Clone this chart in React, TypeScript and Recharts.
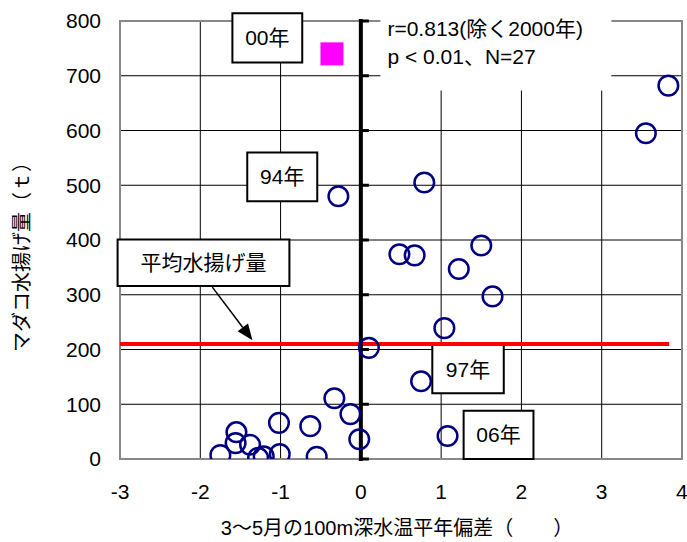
import React from 'react';
import {
  CartesianGrid,
  ReferenceArea,
  ReferenceDot,
  ReferenceLine,
  Scatter,
  ScatterChart,
  XAxis,
  YAxis,
} from 'recharts';

// 3-5月の100m深水温平年偏差 (x) とマダコ水揚げ量 (y)
const tempAnomaly = [
  3.83, 3.55, -0.28, 0.79, 0.48, 0.67, 1.5, 1.22, 1.64, 1.04, 0.1, 0.75, -0.13,
  -0.02, 1.08, -0.33, -0.63, -1.02, -0.55, -1.01, -1.55, -1.56, -1.38, -1.75,
  -1.28, -1.21,
];
const catchTons = [
  682, 595, 480, 505, 374, 372, 390, 347, 297, 239, 203, 142, 82, 36, 42, 111,
  60, 66, 4, 9, 49, 29, 26, 7, 2, 5,
];
const year2000Temp = [-0.36];
const year2000Tons = [740];
const meanCatch = 210;
const meanLineEnd = 3.84;

const xTicks = [-3, -2, -1, 0, 1, 2, 3, 4];
const yTicks = [0, 100, 200, 300, 400, 500, 600, 700, 800];

const points = tempAnomaly.map((x, i) => ({ x, y: catchTons[i] }));
const point2000 = year2000Temp.map((x, i) => ({ x, y: year2000Tons[i] }));

// annotation boxes, in data units
const yearBoxes = [
  { text: '00年', x1: -1.6, x2: -0.73, y1: 724, y2: 814 },
  { text: '94年', x1: -1.415, x2: -0.543, y1: 471, y2: 560 },
  { text: '97年', x1: 0.89, x2: 1.78, y1: 120, y2: 208 },
  { text: '06年', x1: 1.28, x2: 2.15, y1: 0, y2: 88 },
  { text: '平均水揚げ量', x1: -3.03, x2: -0.89, y1: 316, y2: 401 },
];

const FONT = '"Liberation Sans", Arial, "Noto Sans CJK JP", sans-serif';
const NAVY = '#000080';

const Ring = (p: any) => (
  <circle cx={p.cx} cy={p.cy} r={9.8} fill="none" stroke={NAVY} strokeWidth={2.5} />
);

const Square = (p: any) => (
  <rect x={p.cx - 11.5} y={p.cy - 11.5} width={23} height={23} fill="#ff00ff" />
);

const AxisTick = (p: any) => (
  <line x1={p.cx} y1={p.cy} x2={p.cx + 8} y2={p.cy} stroke="#000" strokeWidth={3} />
);

const Arrow = (p: any) => {
  const { x1, y1, x2, y2 } = p;
  const a = Math.atan2(y2 - y1, x2 - x1);
  const len = 16;
  const w = 6.5;
  const bx = x2 - len * Math.cos(a);
  const by = y2 - len * Math.sin(a);
  const nx = -Math.sin(a) * w;
  const ny = Math.cos(a) * w;
  return (
    <g>
      <line x1={x1} y1={y1} x2={bx} y2={by} stroke="#000" strokeWidth={1.5} />
      <polygon points={`${x2},${y2} ${bx + nx},${by + ny} ${bx - nx},${by - ny}`} fill="#000" />
    </g>
  );
};

const statLabel = (p: any) => {
  const vb = p.viewBox;
  return (
    <g fontSize={21} fill="#000">
      <text x={vb.x + 7} y={vb.y + 28}>r=0.813(除く2000年)</text>
      <text x={vb.x + 7} y={vb.y + 56}>p &lt; 0.01、N=27</text>
    </g>
  );
};

const yLabel = (p: any) => {
  const vb = p.viewBox;
  const cx = 22;
  const cy = vb.y + vb.height / 2 + 12;
  return (
    <text
      x={cx}
      y={cy}
      transform={`rotate(-90 ${cx} ${cy})`}
      textAnchor="middle"
      dominantBaseline="central"
      fontSize={20}
      fill="#000"
    >
      マダコ水揚げ量（ｔ）
    </text>
  );
};

const xLabel = (p: any) => {
  const vb = p.viewBox;
  return (
    <text
      x={vb.x + vb.width / 2 - 4}
      y={528}
      textAnchor="middle"
      dominantBaseline="central"
      fontSize={20}
      fill="#000"
    >
      3～5月の100m深水温平年偏差（　　）
    </text>
  );
};

export default function App() {
  return (
    <div style={{ position: 'absolute', left: 0, top: 0, background: '#fff', fontFamily: FONT }}>
      <ScatterChart width={687} height={542} margin={{ top: 21, right: 5, bottom: 0, left: 0 }}>
        <CartesianGrid
          stroke="#000"
          strokeWidth={1}
          horizontalValues={[100, 200, 300, 400, 500, 600, 700]}
          verticalValues={[-2, -1, 1, 2, 3]}
        />
        <XAxis
          type="number"
          dataKey="x"
          domain={[-3, 4]}
          ticks={xTicks}
          allowDataOverflow
          axisLine={false}
          tickLine={false}
          tickSize={0}
          tickMargin={25}
          height={83}
          tick={{ fontSize: 21, fill: '#000' }}
          label={xLabel}
        />
        <YAxis
          type="number"
          dataKey="y"
          domain={[0, 800]}
          ticks={yTicks}
          allowDataOverflow
          axisLine={false}
          tickLine={false}
          tickSize={0}
          tickMargin={19}
          width={120}
          tick={{ fontSize: 21, fill: '#000' }}
          label={yLabel}
        />
        <ReferenceArea x1={-3} x2={4} y1={0} y2={800} fill="none" stroke="#888" strokeWidth={2} />
        <ReferenceArea
          x1={0.244}
          x2={3.12}
          y1={673}
          y2={823}
          ifOverflow="visible"
          fill="#fff"
          fillOpacity={1}
          stroke="none"
          label={statLabel}
        />
        <ReferenceLine
          segment={[
            { x: -3, y: meanCatch },
            { x: meanLineEnd, y: meanCatch },
          ]}
          stroke="#ff0000"
          strokeWidth={4}
        />
        <ReferenceLine x={0} stroke="#000" strokeWidth={4} strokeLinecap="square" />
        {yTicks.map((v) => (
          <ReferenceDot key={v} x={0} y={v} r={0} shape={AxisTick} ifOverflow="visible" />
        ))}
        {yearBoxes.map((b) => (
          <ReferenceArea
            key={b.text}
            x1={b.x1}
            x2={b.x2}
            y1={b.y1}
            y2={b.y2}
            ifOverflow="visible"
            fill="#fff"
            fillOpacity={1}
            stroke="#000"
            strokeWidth={2}
            label={{ value: b.text, position: 'center', fontSize: 21, fill: '#000' }}
          />
        ))}
        <ReferenceLine
          segment={[
            { x: -1.85, y: 314 },
            { x: -1.35, y: 217 },
          ]}
          ifOverflow="visible"
          shape={Arrow}
        />
        <Scatter data={points} shape={Ring} isAnimationActive={false} />
        <Scatter data={point2000} shape={Square} isAnimationActive={false} />
      </ScatterChart>
    </div>
  );
}
